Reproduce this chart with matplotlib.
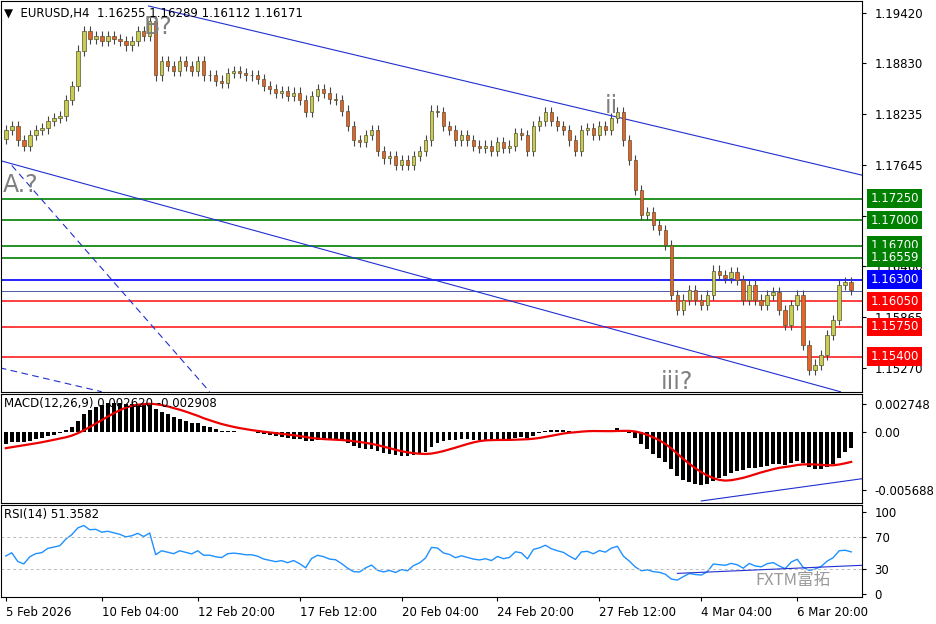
import numpy as np
import matplotlib
matplotlib.use("Agg")
import matplotlib.pyplot as plt

# closes before the visible window (only used to warm up the indicators)
prior_closes = [1.1880,1.1885,1.1878,1.1882,1.1875,1.1870,1.1872,1.1865,1.1868,1.1860,
1.1855,1.1858,1.1850,1.1845,1.1848,1.1840,1.1835,1.1838,1.1830,1.1825,
1.1828,1.1820,1.1815,1.1818,1.1810,1.1805,1.1800,1.1804,1.1798,1.1792,
1.1795,1.1790,1.1786,1.1790,1.1785,1.1788,1.1792,1.1795,1.1790,1.1795]
closes = [1.1805,1.1810,1.1793,1.1787,1.1799,1.1805,1.1807,1.1816,1.1819,1.1822,
1.1840,1.1857,1.1898,1.1921,1.1912,1.1915,1.1909,1.1915,1.1912,1.1909,
1.1904,1.1909,1.1921,1.1915,1.1933,1.1869,1.1886,1.1880,1.1874,1.1886,
1.1880,1.1874,1.1886,1.1869,1.1869,1.1863,1.1860,1.1872,1.1874,1.1872,
1.1869,1.1869,1.1865,1.1857,1.1853,1.1849,1.1851,1.1845,1.1849,1.1840,
1.1826,1.1845,1.1853,1.1849,1.1842,1.1840,1.1828,1.1810,1.1793,1.1791,
1.1799,1.1805,1.1781,1.1772,1.1775,1.1764,1.1770,1.1764,1.1775,1.1781,
1.1793,1.1828,1.1826,1.1810,1.1805,1.1793,1.1799,1.1793,1.1787,1.1784,
1.1787,1.1781,1.1791,1.1784,1.1787,1.1802,1.1799,1.1781,1.1810,1.1816,
1.1826,1.1816,1.1810,1.1805,1.1793,1.1781,1.1805,1.1807,1.1799,1.1810,
1.1805,1.1819,1.1826,1.1793,1.1770,1.1735,1.1706,1.1709,1.1694,1.1688,
1.1671,1.1612,1.1595,1.1607,1.1618,1.1607,1.1601,1.1612,1.1641,1.1636,
1.1632,1.1639,1.1630,1.1607,1.1624,1.1607,1.1601,1.1612,1.1616,1.1595,
1.1577,1.1601,1.1612,1.1554,1.1525,1.1531,1.1542,1.1566,1.1583,1.1624,
1.1627,1.1618]
first_open = 1.1795
wick = 0.0006
date_labels = ["5 Feb 2026","10 Feb 04:00","12 Feb 20:00","17 Feb 12:00","20 Feb 04:00",
               "24 Feb 20:00","27 Feb 12:00","4 Mar 04:00","6 Mar 20:00"]
date_idx = [0,16,32,49,66,82,99,116,132]
green_levels = [1.1725, 1.1700, 1.1670, 1.16559]
red_levels = [1.1605, 1.1575, 1.1540]
blue_level = 1.1630
last_price = 1.16171
price_ticks = [1.19420,1.18830,1.18235,1.17645,1.17050,1.16460,1.15865,1.15270]

c = np.array(closes); n = len(c)
o = np.concatenate([[first_open], c[:-1]])
hi = np.maximum(o, c) + wick; lo = np.minimum(o, c) - wick
x = np.arange(n)

full = np.array(prior_closes + closes); m = len(prior_closes)
def ema(a, p):
    k = 2/(p+1); out = np.empty_like(a); out[0] = a[0]
    for i in range(1, len(a)): out[i] = a[i]*k + out[i-1]*(1-k)
    return out
macd_f = ema(full,12) - ema(full,26)
sig_f = np.convolve(macd_f, np.ones(9)/9, mode='full')[:len(full)]
macd = macd_f[m:]; sig = sig_f[m:]
d = np.diff(full, prepend=full[0]); up = np.clip(d,0,None); dn = np.clip(-d,0,None)
au = ema(up, 27); ad = ema(dn, 27)
rsi = (100 - 100/(1 + au/np.maximum(ad,1e-9)))[m:]

W, H = 936, 624
fig = plt.figure(figsize=(9.36, 6.24), dpi=100)
fig.patch.set_facecolor('white')
def ax_at(x0, y0, x1, y1):
    return fig.add_axes([x0/W, 1-y1/H, (x1-x0)/W, (y1-y0)/H])
ax1 = ax_at(1, 1, 862, 392)
ax2 = ax_at(1, 394, 862, 503)
ax3 = ax_at(1, 505, 862, 597)
xl = (-0.8, n + 0.8)
for a in (ax1, ax2, ax3):
    a.set_xlim(xl)
    a.yaxis.tick_right()
    a.tick_params(axis='y', labelsize=8.5, length=3, pad=6)
    a.tick_params(axis='x', bottom=False, labelbottom=False)
    for s in a.spines.values(): s.set_color('black'); s.set_linewidth(0.8)

# main
ax1.set_ylim(1.1499, 1.1956)
for i in range(n):
    colr = '#c8cc50' if c[i] >= o[i] else '#e8602a'
    ax1.vlines(x[i], lo[i], hi[i], color='#444444', lw=0.8, zorder=2)
    ax1.bar(x[i], max(abs(c[i]-o[i]), 0.00005), bottom=min(o[i], c[i]), width=0.6,
            color=colr, edgecolor='#555533', lw=0.5, zorder=3)
for lv in green_levels: ax1.axhline(lv, color='#008000', lw=1.2, zorder=1)
for lv in red_levels: ax1.axhline(lv, color='#ff2020', lw=1.2, zorder=1)
ax1.axhline(blue_level, color='#0000ff', lw=1.2, zorder=1)
ax1.axhline(last_price, color='#3040a0', lw=0.6, zorder=1)
ax1.set_yticks(price_ticks)
ax1.set_yticklabels([f"{p:.5f}" for p in price_ticks])
ax1.plot([23.8, n+1], [1.1956-5*0.0001165, 1.1956-175*0.0001165], color='#2030d0', lw=0.8)
ax1.plot([-1, 139.2], [1.1956-160*0.0001165, 1.1956-392*0.0001165], color='#2030d0', lw=0.8)
ax1.plot([1, 34], [1.1956-165*0.0001165, 1.1956-392*0.0001165], color='#2030d0', lw=0.8, ls=(0,(6,4)))
ax1.plot([-1, 16], [1.1956-368*0.0001165, 1.1956-392*0.0001165], color='#2030d0', lw=0.8, ls=(0,(6,4)))
def lab(ax, v, txt, col):
    ax.annotate(txt, xy=(1, v), xycoords=('axes fraction','data'), xytext=(6, 0),
                textcoords='offset points', va='center', ha='left', fontsize=8.5,
                color='white', bbox=dict(boxstyle='square,pad=0.25', fc=col, ec='none'),
                annotation_clip=False, zorder=10)
for lv in green_levels: lab(ax1, lv, f"{lv:.5f}", '#008000')
lab(ax1, blue_level, f"{blue_level:.5f}", '#0000ff')
for lv in red_levels: lab(ax1, lv, f"{lv:.5f}", '#ff0000')
gk = dict(color='#808080', fontsize=17, zorder=5)
ax1.text(23, 1.1956-26*0.0001165, "B?", ha='left', va='center', **gk)
ax1.text(-0.5, 1.1956-185*0.0001165, "A.?", ha='left', va='center', **gk)
ax1.text(101, 1.1956-105*0.0001165, "ii", ha='center', va='center', **gk)
ax1.text(112, 1.1956-382*0.0001165, "iii?", ha='center', va='center', **gk)
ax1.text(0.004, 0.985, "\u25BC  EURUSD,H4  1.16255 1.16289 1.16112 1.16171", transform=ax1.transAxes,
         fontsize=8.5, va='top', ha='left', zorder=6)

# MACD
ax2.bar(x, macd, width=0.65, color='black', zorder=2)
ax2.plot(x, sig, color='#ee0000', lw=1.6, zorder=3)
ax2.set_ylim(-0.0070, 0.0037)
ax2.set_yticks([0.002748, 0.0, -0.005688])
ax2.set_yticklabels(["0.002748", "0.00", "-0.005688"])
ax2.plot([116, n+1], [-0.0068, -0.0046], color='#2030d0', lw=0.8)
ax2.text(0.004, 0.97, "MACD(12,26,9) 0.002620 -0.002908", transform=ax2.transAxes,
         fontsize=8.5, va='top', ha='left', zorder=6)

# RSI
ax3.plot(x, rsi, color='#1e90ff', lw=1.0)
for lv in (70, 30): ax3.axhline(lv, color='#bbbbbb', lw=0.7, ls=(0,(3,3)))
ax3.set_ylim(-4, 109)
ax3.set_yticks([100, 70, 30, 0]); ax3.set_yticklabels(["100", "70", "30", "0"])
ax3.plot([112, n+1], [25, 35], color='#2030d0', lw=0.8)
ax3.text(0.004, 0.97, "RSI(14) 51.3582", transform=ax3.transAxes,
         fontsize=8.5, va='top', ha='left')
ax3.text(0.92, 0.18, "FXTM富拓", transform=ax3.transAxes, fontsize=12, color='#999999',
         ha='center', va='center', family=['Noto Sans CJK SC', 'DejaVu Sans'])
ax3.set_xticks(date_idx)
ax3.tick_params(axis='x', bottom=True, labelbottom=True, length=3, labelsize=8.5)
ax3.set_xticklabels(date_labels, ha='left')

fig.savefig("out.png", dpi=100)
